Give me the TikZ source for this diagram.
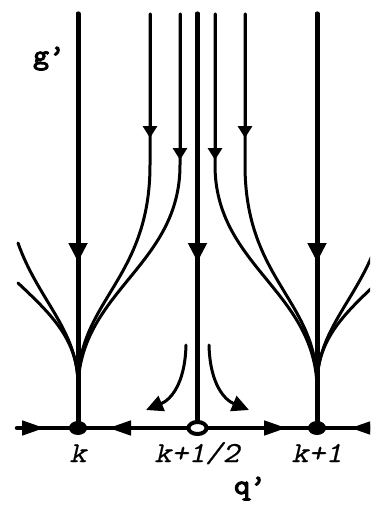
\documentclass[tikz,border=0pt]{standalone}
\usepackage{fontspec}
\newfontfamily\labelfont[FakeSlant=0.2,FakeBold=0.6]{Latin Modern Mono}
\newfontfamily\axisfont[FakeBold=4]{Latin Modern Mono}
\usetikzlibrary{arrows.meta,shapes.geometric}
\begin{document}
\begin{tikzpicture}[x=1pt,y=-1pt,
  thickline/.style={line width=5pt,line cap=round},
  thinline/.style={line width=3pt,line cap=round},
  axisline/.style={line width=4.5pt},
  bigtip/.style={-{Triangle[length=19pt,width=18pt]}},
  smalltip/.style={-{Triangle[length=12pt,width=14pt]}},
  axistip/.style={-{Triangle[length=23pt,width=14pt]}},
  bendtip/.style={-{Triangle[length=17pt,width=16pt]}},
  lbl/.style={font=\labelfont\fontsize{29}{29}\selectfont,anchor=base,inner sep=0pt},
  axlbl/.style={font=\axisfont\fontsize{28}{28}\selectfont,anchor=base,inner sep=0pt}]
\useasboundingbox (0,0) rectangle (370,506);
\begin{scope}
\clip (0,0) rectangle (370,506);

% fixed points on the q' axis
\coordinate (kc) at (78,428);
\coordinate (hc) at (197.5,428);
\coordinate (k1c) at (317,428);

% trajectories converging on k (left fan)
\draw[thinline] (18,243) .. controls (38,300) and (78,330) .. (78,385) -- (kc);
\draw[thinline] (18,283) .. controls (52,315) and (78,340) .. (78,385) -- (kc);
\draw[thinline] (150,14) -- (150,165) .. controls (150,280) and (78,300) .. (78,385) -- (kc);
\draw[thinline] (180,14) -- (180,165) .. controls (180,265) and (82,290) .. (78,385) -- (kc);
\draw[thinline,smalltip] (150,14) -- (150,138);
\draw[thinline,smalltip] (180,14) -- (180,160);

% trajectories converging on k+1 (right fan)
\draw[thinline] (377,243) .. controls (357,300) and (317,330) .. (317,385) -- (k1c);
\draw[thinline] (377,283) .. controls (343,315) and (317,340) .. (317,385) -- (k1c);
\draw[thinline] (245,14) -- (245,165) .. controls (245,280) and (317,300) .. (317,385) -- (k1c);
\draw[thinline] (215,14) -- (215,165) .. controls (215,265) and (313,290) .. (317,385) -- (k1c);
\draw[thinline,smalltip] (245,14) -- (245,138);
\draw[thinline,smalltip] (215,14) -- (215,160);

% vertical separatrices
\draw[thickline] (78,14) -- (kc);
\draw[thickline,bigtip] (78,14) -- (78,262);
\draw[thickline] (317,14) -- (k1c);
\draw[thickline,bigtip] (317,14) -- (317,262);
\draw[thickline] (197.5,14) -- (hc);
\draw[thickline,bigtip] (197.5,14) -- (197.5,262);

% flow away from k+1/2
\draw[thinline,bendtip] (186,345) .. controls (185,385) and (170,400) .. (146,410);
\draw[thinline,bendtip] (209,345) .. controls (210,385) and (225,400) .. (249,410);

% q' axis
\draw[axisline,line cap=round] (17,428) -- (kc);
\draw[axisline] (kc) -- (380,428);
\draw[axisline,axistip] (17,428) -- (45,428);
\draw[axisline,axistip] (hc) -- (108,428);
\draw[axisline,axistip] (hc) -- (287,428);
\draw[axisline,axistip] (385,428) -- (350,428);

% stable and unstable points
\node[ellipse,fill=black,minimum width=18pt,minimum height=14pt,inner sep=0pt] (k) at (kc) {};
\node[ellipse,fill=black,minimum width=18pt,minimum height=14pt,inner sep=0pt] (k1) at (k1c) {};
\node[ellipse,draw=black,line width=4pt,fill=white,minimum width=18pt,minimum height=12pt,inner sep=0pt] (h) at (hc) {};
\end{scope}

% labels
\node[lbl] (lk) at (78,462) {\scalebox{1.14}[1]{k}};
\node[lbl] (lh) at (197,462) {\scalebox{1.14}[1]{k+1/2}};
\node[lbl] (lk1) at (317,462) {\scalebox{1.14}[1]{k+1}};
\node[axlbl] (gp) at (49,64) {\scalebox{1.1}[1]{g’}};
\node[axlbl] (qp) at (250,494) {\scalebox{1.1}[1]{q’}};
\end{tikzpicture}
\end{document}
